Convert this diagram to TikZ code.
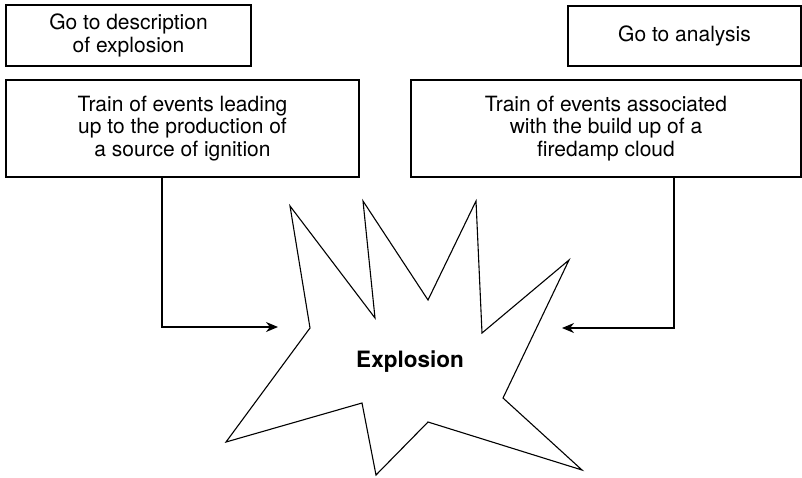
\documentclass[tikz,border=0pt]{standalone}
\usepackage{fontspec}
\setmainfont{TeX Gyre Heros}
\usetikzlibrary{arrows.meta}
\begin{document}
\begin{tikzpicture}[x=1pt,y=-1pt,
  every node/.style={inner sep=0pt},
  eventbox/.style={draw, line width=1.2pt, align=center,
    font=\fontsize{21}{22.5}\selectfont},
  feed/.style={line width=1.2pt, -{Stealth[length=12pt,width=10pt]}},
  burst/.style={line width=1.1pt, line join=miter}]
  % page frame
  \fill[white] (0,0) rectangle (802,477);
  \useasboundingbox (0,0) rectangle (802,477);

  % boxes
  \node[eventbox, minimum width=245pt, minimum height=61pt] (desc) at (128.5,35.5)
    {Go to description\\of explosion};
  \node[eventbox, minimum width=353pt, minimum height=97pt] (ignition) at (182.5,128.5)
    {Train of events leading\\up to the production of\\a source of ignition};
  \node[eventbox, minimum width=233pt, minimum height=60pt] (analysis) at (684.5,36)
    {Go to analysis};
  \node[eventbox, minimum width=390pt, minimum height=97pt] (firedamp) at (606,128.5)
    {Train of events associated\\with the build up of a\\firedamp cloud};

  % explosion burst
  \draw[burst] (290,206) -- (375,318) -- (363,201) -- (428,300) -- (476,201)
    -- (482,333) -- (569,260) -- (503,398) -- (582,470) -- (428,422)
    -- (376,475) -- (362,403) -- (226,442) -- (310,328) -- cycle;
  \node[font=\fontsize{22.5}{27}\selectfont\bfseries] (explosion) at (410,362) {Explosion};

  % feeds into the explosion
  \coordinate (tipL) at (278,327);
  \coordinate (tipR) at (562,328);
  \draw[feed] ([xshift=-20.5pt]ignition.south) |- (tipL);
  \draw[feed] ([xshift=68pt]firedamp.south) |- (tipR);
\end{tikzpicture}
\end{document}
